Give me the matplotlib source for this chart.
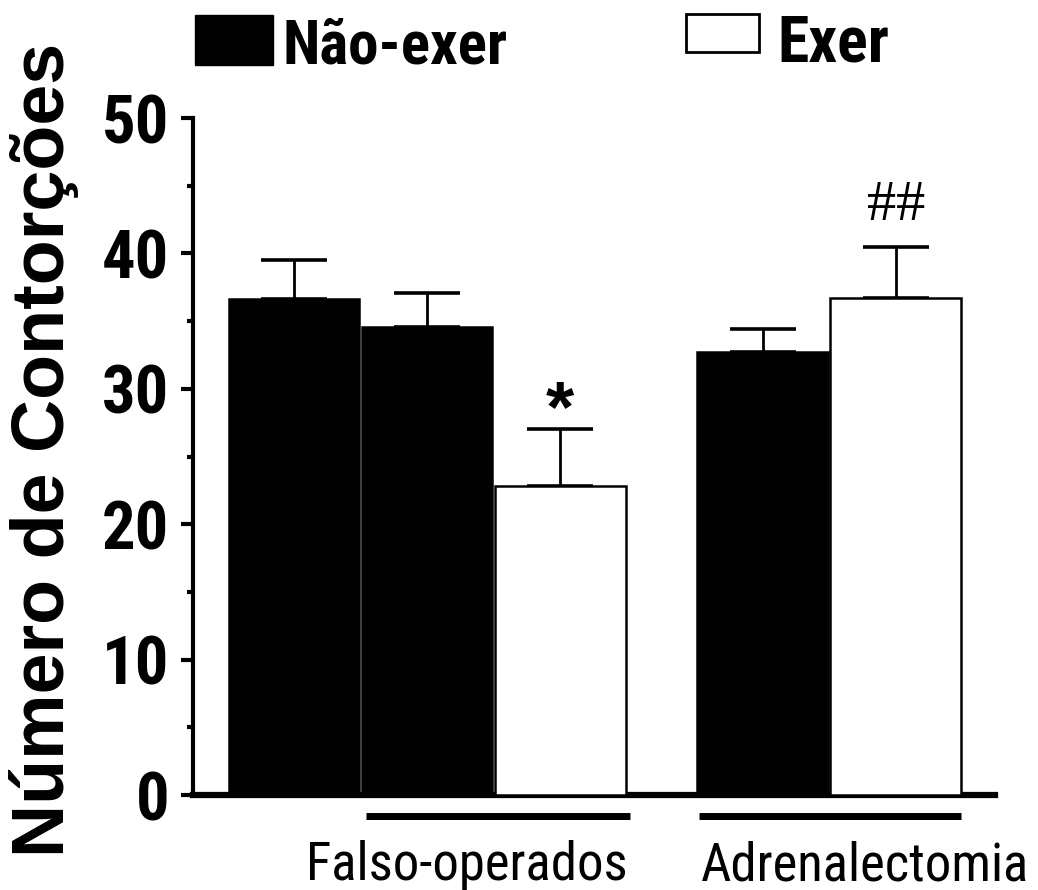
import matplotlib.pyplot as plt
from matplotlib.patches import Rectangle
import numpy as np

# valores
grupos = ['Falso-operados', 'Adrenalectomia']
media = [36.6, 34.6, 22.8, 32.7, 36.7]
epm = [2.9, 2.5, 4.2, 1.7, 3.8]
cores = ['black', 'black', 'white', 'black', 'white']
pos = [0.76, 1.76, 2.76, 4.28, 5.28]
marcas = {2: '*', 4: '##'}
series = ['Não-exer', 'Exer']

narrow = ['Roboto Condensed', 'Archivo Narrow', 'Liberation Sans', 'DejaVu Sans']
arial = ['Liberation Sans', 'DejaVu Sans']

fig = plt.figure(figsize=(10.38, 8.9), dpi=100)
ax = fig.add_axes([0.186, 0.1067, 0.773, 0.7607])

ax.bar(pos, media, width=0.98, color=cores, edgecolor='black', linewidth=1.8, zorder=3)
ax.errorbar(pos, media, yerr=[np.zeros(len(epm)), epm], fmt='none', ecolor='black',
            elinewidth=2, capsize=24, capthick=2.6, zorder=2)

for i, s in marcas.items():
    y = media[i] + epm[i]
    if s == '*':
        ax.text(pos[i], y - 1.2, s, ha='center', va='bottom', fontsize=52,
                fontweight='bold', family=arial)
    else:
        ax.text(pos[i], y + 1.1, s, ha='center', va='bottom', fontsize=42,
                family=['Liberation Serif', 'DejaVu Serif'])

ax.set_xlim(0, 6.03)
ax.set_ylim(0, 50)
ax.set_yticks(np.arange(0, 51, 10))
ax.set_yticks(np.arange(5, 50, 10), minor=True)
ax.set_xticks([])
for sp in ['top', 'right']:
    ax.spines[sp].set_visible(False)
ax.spines['left'].set_linewidth(3)
ax.spines['bottom'].set_linewidth(4.5)
ax.tick_params(axis='y', which='major', length=9, width=3, pad=8)
ax.tick_params(axis='y', which='minor', length=4, width=3)
for lb in ax.get_yticklabels():
    lb.set_family(narrow)
    lb.set_fontweight('bold')
    lb.set_fontsize(48)

ax.set_ylabel('Número de Contorções', fontsize=53, fontweight='bold', family=arial)
ax.yaxis.set_label_coords(-0.142, 0.51)

# linhas dos grupos
linhas = [(1.30, 3.28), (3.80, 5.77)]
centros = [2.06, 5.05]
for (a, b), c, g in zip(linhas, centros, grupos):
    ax.plot([a, b], [-1.55, -1.55], color='black', lw=5, clip_on=False, solid_capstyle='butt')
    ax.text(c, -6.3, g, ha='center', va='baseline', fontsize=38, family=narrow)

# legenda
fig.add_artist(Rectangle((195 / 1038, 1 - 65 / 890), 78 / 1038, 50 / 890,
                         transform=fig.transFigure, facecolor='black', edgecolor='black'))
fig.text(283 / 1038, 1 - 63 / 890, series[0], fontsize=44, fontweight='bold',
         family=narrow, va='baseline')
fig.add_artist(Rectangle((686 / 1038, 1 - 52 / 890), 73 / 1038, 38 / 890,
                         transform=fig.transFigure, facecolor='white', edgecolor='black', lw=2))
fig.text(777 / 1038, 1 - 62 / 890, series[1], fontsize=46, fontweight='bold',
         family=narrow, va='baseline')

fig.savefig('out.png', dpi=100)
